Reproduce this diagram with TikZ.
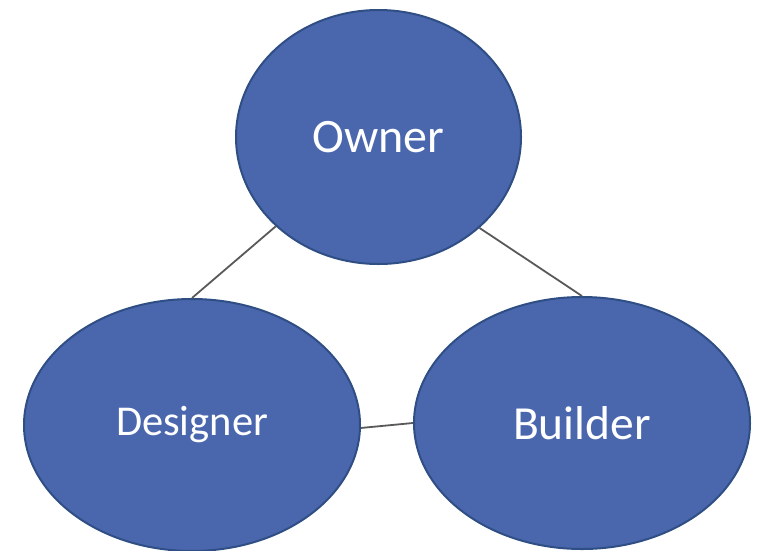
\documentclass[tikz,border=0pt]{standalone}
\usepackage{fontspec}
\setmainfont{Carlito}
\usetikzlibrary{shapes.geometric}
\definecolor{nodefill}{HTML}{4A67AE}
\definecolor{nodeedge}{HTML}{2F4E84}
\definecolor{linkgray}{HTML}{595959}
\begin{document}
\begin{tikzpicture}[x=1pt,y=-1pt,
  party/.style={ellipse,draw=nodeedge,fill=nodefill,line width=2pt,inner sep=0pt,text=white},
  link/.style={draw=linkgray,line width=1.8pt}]
\useasboundingbox (0,0) rectangle (760,550);
\node[party,minimum width=285pt,minimum height=254pt,font=\fontsize{48}{54}\selectfont] (owner) at (378.5,137) {Owner};
\node[party,minimum width=336pt,minimum height=252pt,font=\fontsize{42.5}{48}\selectfont] (designer) at (192,425) {Designer};
\node[party,minimum width=336pt,minimum height=252pt,font=\fontsize{47.5}{54}\selectfont] (builder) at (582,423) {Builder};
\draw[link] (owner.221.8) -- (designer.90);
\draw[link] (owner.318.4) -- (builder.90);
\draw[link] (designer.-1) -- (builder.180);
\end{tikzpicture}
\end{document}
